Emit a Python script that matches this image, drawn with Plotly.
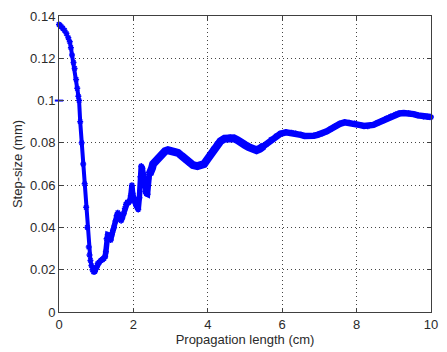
import plotly.graph_objects as go

# initial step (first sample drawn on the y axis)
x_init = [0.0]
step_init = [0.1]

# propagation length (cm) and step size (mm)
x_cm = [0.00, 0.03, 0.06, 0.10, 0.15, 0.20, 0.25, 0.29, 0.32, 0.35, 0.39, 0.42, 0.46, 0.49,
        0.52, 0.54, 0.57, 0.61, 0.65, 0.69, 0.73, 0.76, 0.80, 0.82, 0.845, 0.87, 0.90, 0.93, 0.96,
        1.00, 1.04, 1.08, 1.13, 1.17, 1.21, 1.24, 1.26, 1.28, 1.31, 1.35, 1.39, 1.42, 1.45, 1.48,
        1.52, 1.55, 1.58, 1.61, 1.64, 1.67, 1.70, 1.74, 1.77, 1.80, 1.84, 1.87, 1.90, 1.93, 1.96,
        1.98, 2.00, 2.04, 2.07, 2.10, 2.13, 2.16, 2.19, 2.21, 2.24, 2.27, 2.30, 2.32, 2.35, 2.38,
        2.40, 2.43, 2.47, 2.50, 2.53, 2.60, 2.67, 2.75, 2.85, 2.93, 3.00, 3.06, 3.13, 3.20, 3.30,
        3.41, 3.50, 3.60, 3.72, 3.80, 3.90, 4.00, 4.07, 4.15, 4.25, 4.34, 4.45, 4.60, 4.70, 4.80,
        4.87, 5.00, 5.10, 5.22, 5.31, 5.40, 5.50, 5.57, 5.70, 5.84, 5.95, 6.10, 6.25, 6.36, 6.50,
        6.60, 6.72, 6.85, 6.95, 7.07, 7.20, 7.30, 7.42, 7.55, 7.68, 7.80, 7.95, 8.10, 8.20, 8.30,
        8.45, 8.56, 8.70, 8.80, 8.92, 9.05, 9.15, 9.27, 9.40, 9.53, 9.65, 9.80, 9.90, 10.00]
step_mm = [0.1360, 0.1355, 0.1350, 0.1342, 0.1332, 0.1317, 0.1297, 0.1278, 0.1250, 0.1215, 0.1180,
           0.1152, 0.1100, 0.1058, 0.1020, 0.1000, 0.0900, 0.0800, 0.0700, 0.0606, 0.0495, 0.0400,
           0.0307, 0.0270, 0.0244, 0.0220, 0.0200, 0.0190, 0.0192,
           0.0210, 0.0229, 0.0235, 0.0244, 0.0248, 0.0254, 0.0262, 0.0285, 0.0346, 0.0365, 0.0362,
           0.0340, 0.0365, 0.0385, 0.0400, 0.0430, 0.0455, 0.0470, 0.0460, 0.0440, 0.0432, 0.0445,
           0.0465, 0.0490, 0.0510, 0.0518, 0.0518, 0.0525, 0.0550, 0.0600, 0.0560, 0.0535, 0.0520,
           0.0505, 0.0495, 0.0485, 0.0540, 0.0640, 0.0690, 0.0680, 0.0650, 0.0600, 0.0570, 0.0560,
           0.0557, 0.0630, 0.0650, 0.0660, 0.0680, 0.0700, 0.0715, 0.0730, 0.0745, 0.0760, 0.0765,
           0.0762, 0.0760, 0.0758, 0.0753, 0.0738, 0.0718, 0.0705, 0.0695, 0.0690, 0.0692, 0.0700,
           0.0725, 0.0745, 0.0770, 0.0795, 0.0808, 0.0820, 0.0827, 0.0822, 0.0813, 0.0808, 0.0790,
           0.0780, 0.0772, 0.0765, 0.0772, 0.0785, 0.0793, 0.0815, 0.0832, 0.0843, 0.0850, 0.0848,
           0.0844, 0.0838, 0.0833, 0.0832, 0.0834, 0.0838, 0.0844, 0.0855, 0.0865, 0.0878, 0.0890,
           0.0897, 0.0895, 0.0891, 0.0884, 0.0880, 0.0879, 0.0885, 0.0894, 0.0905, 0.0915, 0.0925,
           0.0934, 0.0939, 0.0941, 0.0940, 0.0936, 0.0930, 0.0925, 0.0924, 0.0922]

x_ticks = [0, 2, 4, 6, 8, 10]
x_ticktext = ["0", "2", "4", "6", "8", "10"]
y_ticks = [0, 0.02, 0.04, 0.06, 0.08, 0.1, 0.12, 0.14]
y_ticktext = ["0", "0.02", "0.04", "0.06", "0.08", "0.1", "0.12", "0.14"]

BLUE = "#0000ff"
FONT = "Liberation Sans, Arial"

# the dense marker band is thicker where the step size is noisy: draw pieces with different widths
segments = [(0.0, 1.0, 4), (1.0, 2.47, 5.5), (2.47, 5.5, 8), (5.5, 10.01, 6.5)]

fig = go.Figure()
for lo, hi, w in segments:
    idx = [i for i, x in enumerate(x_cm) if lo <= x <= hi]
    if lo > 0:
        idx = [idx[0] - 1] + idx
    xs = [x_cm[i] for i in idx]
    ys = [step_mm[i] for i in idx]
    fig.add_trace(go.Scatter(
        x=xs, y=ys, mode="lines+markers",
        line=dict(color=BLUE, width=w),
        marker=dict(symbol="asterisk-open", size=5, color=BLUE, line=dict(color=BLUE, width=1.5)),
        showlegend=False, cliponaxis=False))
fig.add_trace(go.Scatter(
    x=x_init, y=step_init, mode="markers",
    marker=dict(symbol="line-ew-open", size=6, color=BLUE, line=dict(color=BLUE, width=2)),
    showlegend=False, cliponaxis=False))

axis_common = dict(
    showline=True, linecolor="#404040", linewidth=1, mirror="ticks",
    ticks="inside", ticklen=4, tickcolor="#404040",
    showgrid=True, gridcolor="#444444", gridwidth=1, griddash="1px,3px",
    zeroline=False, tickfont=dict(family=FONT, size=13, color="#2a2a2a"),
)
fig.update_xaxes(range=[0, 10], tickvals=x_ticks, ticktext=x_ticktext,
                 title=dict(text="Propagation length (cm)", standoff=2,
                            font=dict(family=FONT, size=13, color="#2a2a2a")),
                 **axis_common)
fig.update_yaxes(range=[0, 0.14], tickvals=y_ticks, ticktext=y_ticktext,
                 title=dict(text="Step-size (mm)", standoff=4,
                            font=dict(family=FONT, size=13, color="#2a2a2a")),
                 **axis_common)
fig.update_layout(
    width=447, height=352, autosize=False,
    margin=dict(l=59, r=9, t=14, b=40),
    paper_bgcolor="white", plot_bgcolor="white",
)
fig.write_html("out.html")
